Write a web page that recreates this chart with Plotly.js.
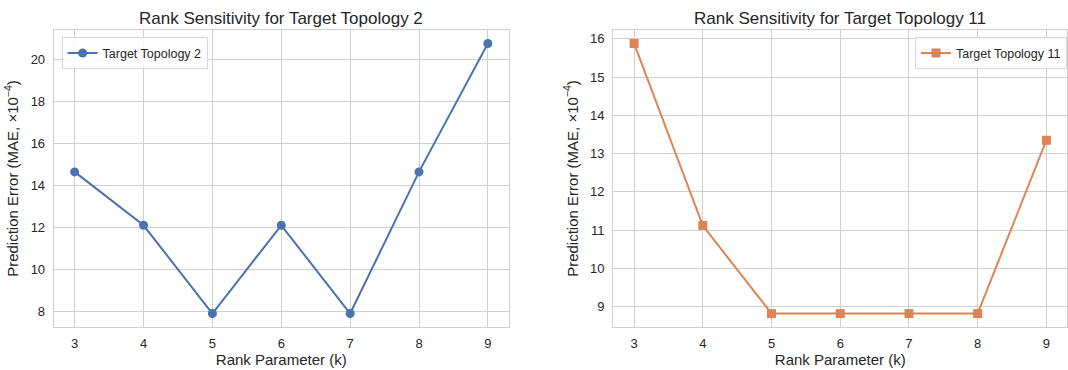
<!DOCTYPE html>
<html>
<head>
<meta charset="utf-8">
<script src="https://cdn.plot.ly/plotly-3.0.1.min.js"></script>
<style>html,body{margin:0;padding:0;background:#fff;}#chart{width:1068px;height:370px;}</style>
</head>
<body>
<div id="chart"></div>
<script>
const rankK = [3, 4, 5, 6, 7, 8, 9];
const topo2Values = [14.66, 12.12, 7.92, 12.12, 7.92, 14.66, 20.77];
const topo11Values = [15.88, 11.12, 8.82, 8.82, 8.82, 8.82, 13.35];
const titleLeft = "Rank Sensitivity for Target Topology 2";
const titleRight = "Rank Sensitivity for Target Topology 11";
const nameLeft = "Target Topology 2";
const nameRight = "Target Topology 11";
const xTitle = "Rank Parameter (k)";
const yTitle = "Prediction Error (MAE, ×10<sup>−4</sup>)";

const FONT = "Liberation Sans, Arial, sans-serif";
const TXT = "#262626";
const GRID = "#d0d0d0";

const traces = [
  {x: rankK, y: topo2Values, name: nameLeft, type: "scatter", mode: "lines+markers",
   line: {color: "#4C72B0", width: 2}, marker: {symbol: "circle", size: 9, color: "#4C72B0"},
   xaxis: "x", yaxis: "y", legend: "legend"},
  {x: rankK, y: topo11Values, name: nameRight, type: "scatter", mode: "lines+markers",
   line: {color: "#DD8452", width: 2}, marker: {symbol: "square", size: 9, color: "#DD8452"},
   xaxis: "x2", yaxis: "y2", legend: "legend2"}
];

function xax(domain, anchor) {
  return {domain: domain, anchor: anchor, range: [2.7, 9.3], dtick: 1, tick0: 0,
    showgrid: true, gridcolor: GRID, gridwidth: 1, zeroline: false,
    showline: true, mirror: true, linecolor: GRID, linewidth: 1.3,
    ticks: "", ticklabelstandoff: 4, automargin: false,
    tickfont: {family: FONT, size: 13, color: TXT},
    title: {text: xTitle, font: {family: FONT, size: 15, color: TXT}, standoff: 2}};
}
function yax(domain, anchor, range, dtick) {
  return {domain: domain, anchor: anchor, range: range, dtick: dtick, tick0: 0,
    showgrid: true, gridcolor: GRID, gridwidth: 1, zeroline: false,
    showline: true, mirror: true, linecolor: GRID, linewidth: 1.3,
    ticks: "", ticklabelstandoff: 5, automargin: false,
    tickfont: {family: FONT, size: 13, color: TXT},
    title: {text: yTitle, font: {family: FONT, size: 15, color: TXT}, standoff: 8}};
}

const layout = {
  width: 1068, height: 370,
  margin: {l: 54, r: 1, t: 30, b: 43},
  paper_bgcolor: "#ffffff", plot_bgcolor: "#ffffff",
  font: {family: FONT, color: TXT},
  showlegend: true,
  xaxis: xax([0, 0.4487], "y"),
  yaxis: yax([0, 1], "x", [7.28, 21.41], 2),
  xaxis2: xax([0.5523, 1], "y2"),
  yaxis2: yax([0, 1], "x2", [8.47, 16.23], 1),
  legend: {x: 0.0075, y: 0.975, xanchor: "left", yanchor: "top", xref: "paper", yref: "paper",
    bgcolor: "rgba(255,255,255,0.85)", bordercolor: "#d8d8d8", borderwidth: 1,
    font: {family: FONT, size: 12.5, color: TXT}, itemwidth: 30},
  legend2: {x: 1.0, y: 0.975, xanchor: "right", yanchor: "top", xref: "paper", yref: "paper",
    bgcolor: "rgba(255,255,255,0.85)", bordercolor: "#d8d8d8", borderwidth: 1,
    font: {family: FONT, size: 12.5, color: TXT}, itemwidth: 30},
  annotations: [
    {text: titleLeft, xref: "paper", yref: "paper", x: 0.2244, y: 1, yshift: 12, xanchor: "center", yanchor: "middle",
     showarrow: false, font: {family: FONT, size: 17, color: TXT}},
    {text: titleRight, xref: "paper", yref: "paper", x: 0.7762, y: 1, yshift: 12, xanchor: "center", yanchor: "middle",
     showarrow: false, font: {family: FONT, size: 17, color: TXT}}
  ]
};

Plotly.newPlot("chart", traces, layout, {displayModeBar: false, staticPlot: true});
</script>
</body>
</html>
